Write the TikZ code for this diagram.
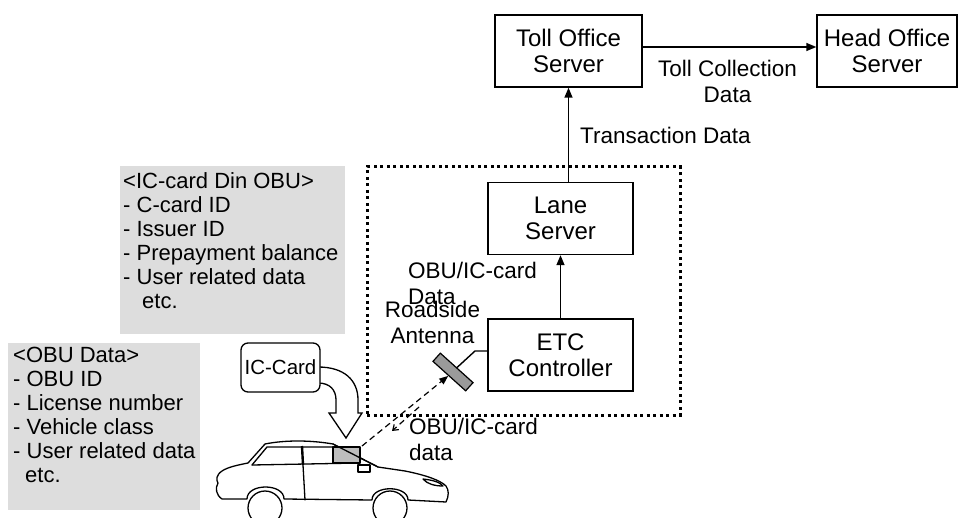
\documentclass[tikz,border=0pt]{standalone}
\usepackage{fontspec}
\setmainfont{Liberation Sans}
\usetikzlibrary{arrows.meta}
\begin{document}
\begin{tikzpicture}[x=1pt,y=-1pt,
  every node/.style={font=\fontsize{22.5}{26}\selectfont, inner sep=0pt},
  serverbox/.style={draw, line width=1.4pt, align=center, minimum width=145pt, minimum height=72pt, font=\fontsize{24}{25.5}\selectfont},
  infobox/.style={fill=infogray, minimum width=225pt, minimum height=168pt, anchor=north west},
  infotext/.style={anchor=north west, align=left, font=\fontsize{22}{24}\selectfont},
  label/.style={align=left, font=\fontsize{22.5}{26}\selectfont},
  zoneframe/.style={draw, line width=3pt, dash pattern=on 3pt off 3.5pt},
  flow/.style={line width=1.4pt, -{Triangle[length=10pt,width=8pt]}},
  wire/.style={line width=1.4pt},
  radio/.style={line width=1.2pt, dash pattern=on 6pt off 4pt},
  carline/.style={line width=1.3pt, line join=round, line cap=round},
]
\definecolor{infogray}{HTML}{DDDDDD}
\definecolor{antgray}{HTML}{9A9A9A}
\definecolor{obugray}{HTML}{BDBDBD}
\useasboundingbox (0,0) rectangle (960,518);
\clip (0,0) rectangle (960,518);

% central servers
\node[serverbox, minimum width=147pt] (toll) at (568.5,51) {Toll Office\\Server};
\node[serverbox, minimum width=140pt] (head) at (887,51) {Head Office\\Server};
\node[zoneframe, minimum width=313pt, minimum height=248pt] (zone) at (523.5,291) {};
\node[serverbox] (lane) at (560.5,218.5) {Lane\\Server};
\node[serverbox] (etc) at (560.5,355) {ETC\\Controller};

\draw[flow] ([yshift=4pt]toll.east) -- ([yshift=4pt]head.west);
\draw[flow] (toll.south |- lane.north) -- (toll.south);
\draw[flow] (etc.north) -- (lane.south);

\node[align=center] (tcd) at (727.5,81.5) {Toll Collection\\Data};
\node[anchor=west] (trd) at (580,135) {Transaction Data};
\node[label, anchor=north west] (obuup) at (408,262) {OBU/IC-card\\Data};
\node[label, align=center, anchor=north] (antlbl) at (432.5,301) {Roadside\\Antenna};
\node[label, anchor=north west] (obulow) at (409,418) {OBU/IC-card\\data};

% roadside antenna
\node[draw, line width=1.2pt, fill=antgray, rotate=-42, minimum width=44pt, minimum height=11pt] (antenna) at (453,372) {};
\coordinate (antbend) at (475,351);
\draw[wire] (antenna.north) -- (antbend) -- (antbend -| etc.west);

% information panels
\node[infobox] (icpanel) at (120,166) {};
\node[infotext] (ictext) at (123,172) {<IC-card Din OBU>\\- C-card ID\\- Issuer ID\\- Prepayment balance\\- User related data\\\hspace*{19pt}etc.};
\node[infobox, minimum width=192pt, minimum height=167pt] (obupanel) at (8,343) {};
\node[infotext] (obutext) at (13,347) {<OBU Data>\\- OBU ID\\- License number\\- Vehicle class\\- User related data\\\hspace*{12pt}etc.};

% card insertion arrow
\draw[line width=1.3pt, fill=white, line join=miter]
  (318,367) .. controls (344,367) and (358,380) .. (358,400) -- (358,413) -- (362,413)
  -- (346,438) -- (329,413) -- (336,413) -- (336,400)
  .. controls (336,390) and (330,383) .. (318,383);
\node[draw, line width=1.3pt, fill=white, rounded corners=7pt, minimum width=79pt, minimum height=49pt, font=\fontsize{20.5}{24}\selectfont] (iccard) at (280.5,367.5) {IC-Card};

% car
\draw[carline, fill=white] (248,463) .. controls (238,465) and (228,467) .. (222,471)
  .. controls (216,475) and (216,480) .. (218,483)
  .. controls (215,488) and (216,495) .. (222,499)
  -- (247,499)
  .. controls (247,483) and (284,483) .. (284,499)
  -- (372,500)
  .. controls (372,485) and (408,485) .. (408,500)
  -- (446,502)
  .. controls (449,496) and (449,490) .. (446,486)
  .. controls (440,480) and (425,475) .. (405,471)
  -- (378,467) -- (333,444)
  .. controls (310,440) and (285,440) .. (265,444)
  -- cycle;
\fill[obugray] (333,447) rectangle (360,463);
\draw[carline] (333,447) rectangle (360,463);
\draw[carline] (333,444) -- (378,467);
\draw[carline] (252,465) -- (267,447) -- (333,447);
\draw[carline] (252,465) -- (360,463);
\draw[line width=2.4pt] (302,446) -- (303,465);
\draw[carline] (303,465) -- (305,500);
\draw[carline] (358,465) rectangle (370,472);
\draw[carline] (423,479) .. controls (432,480) and (440,482) .. (443,486)
  .. controls (435,486) and (427,484) .. (423,479);
\draw[carline, fill=white] (265,508) circle (17pt);
\draw[carline, fill=white] (390,508) circle (17pt);

% radio link between vehicle and antenna
\coordinate (obutop) at (362,446);
\coordinate (downfrom) at (419,407);
\coordinate (downto) at (392,431);
\draw[radio, -{Triangle[length=9pt,width=7pt]}] (obutop) -- (antenna);
\draw[radio, -{Straight Barb[length=5pt,width=7pt]}] (downfrom) -- (downto);
\end{tikzpicture}
\end{document}
